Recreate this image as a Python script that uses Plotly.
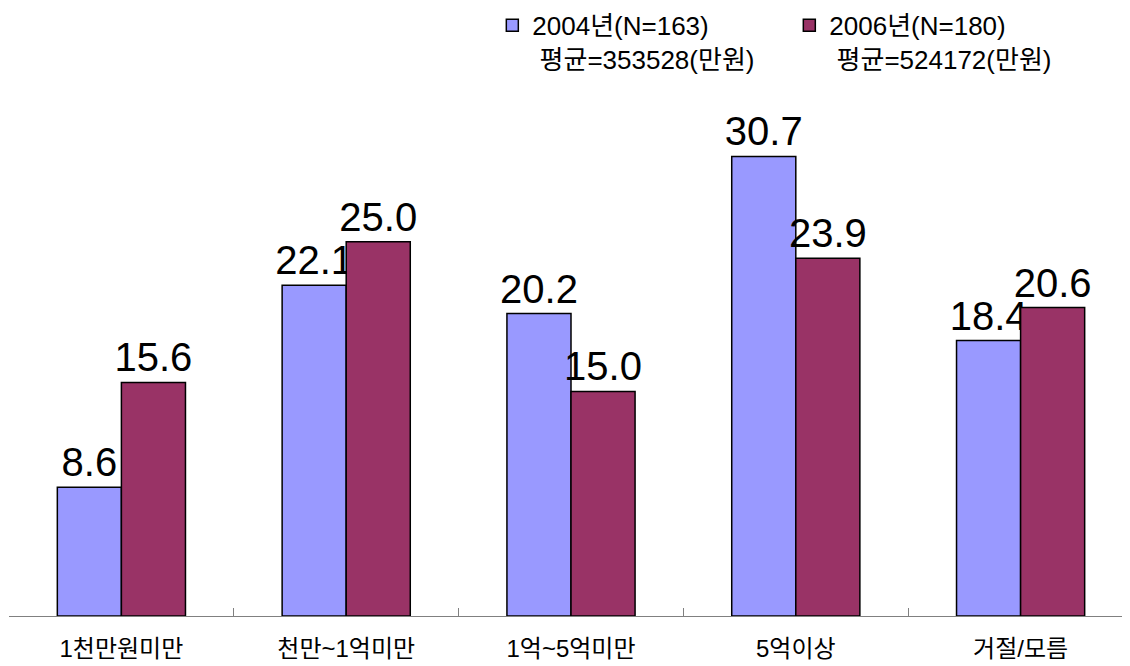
import plotly.graph_objects as go

categories = ['1천만원미만', '천만~1억미만', '1억~5억미만', '5억이상', '거절/모름']
values_2004 = [8.6, 22.1, 20.2, 30.7, 18.4]
values_2006 = [15.6, 25.0, 15.0, 23.9, 20.6]
name_2004 = '2004년(N=163)<br> 평균=353528(만원)'
name_2006 = '2006년(N=180)<br> 평균=524172(만원)'

FONT = 'Liberation Sans, Noto Sans CJK KR, sans-serif'

fig = go.Figure()

fig.add_trace(go.Bar(
    x=categories,
    y=values_2004,
    name=name_2004,
    marker=dict(color='#9999FF', line=dict(color='black', width=1.5)),
    text=[f'{v:.1f}' for v in values_2004],
    textposition='outside',
    constraintext='none',
    cliponaxis=False,
    textfont=dict(size=40, color='black', family=FONT),
))

fig.add_trace(go.Bar(
    x=categories,
    y=values_2006,
    name=name_2006,
    marker=dict(color='#993366', line=dict(color='black', width=1.5)),
    text=[f'{v:.1f}' for v in values_2006],
    textposition='outside',
    constraintext='none',
    cliponaxis=False,
    textfont=dict(size=40, color='black', family=FONT),
))

fig.update_layout(
    width=1130,
    height=666,
    barmode='group',
    bargap=0.43,
    bargroupgap=0,
    paper_bgcolor='white',
    plot_bgcolor='white',
    font=dict(family=FONT, color='black'),
    margin=dict(l=1, r=5, t=84, b=58, autoexpand=False),
    showlegend=True,
    legend=dict(
        orientation='h',
        x=0.43, xanchor='left',
        y=1.172, yanchor='top',
        font=dict(size=26, family=FONT),
        valign='top',
        itemwidth=30,
        entrywidth=252,
        traceorder='normal',
        bgcolor='rgba(0,0,0,0)',
    ),
    xaxis=dict(
        showline=True,
        linecolor='#808080',
        linewidth=1,
        ticks='inside',
        tickson='boundaries',
        ticklen=8,
        tickcolor='#808080',
        tickfont=dict(size=24, family=FONT),
        ticklabelstandoff=11,
        showgrid=False,
        automargin=False,
    ),
    yaxis=dict(
        range=[0, 35],
        visible=False,
        showgrid=False,
        zeroline=False,
    ),
)

fig.write_html("out.html")
